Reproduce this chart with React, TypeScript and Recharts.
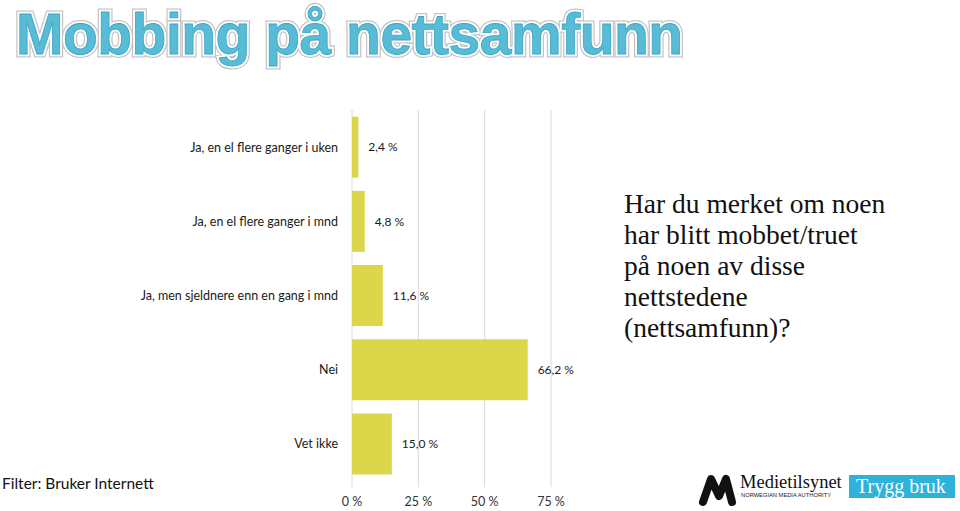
import { BarChart, Bar, XAxis, YAxis, CartesianGrid, LabelList } from "recharts";

const categories = [
  "Ja, en el flere ganger i uken",
  "Ja, en el flere ganger i mnd",
  "Ja, men sjeldnere enn en gang i mnd",
  "Nei",
  "Vet ikke",
];
const values = [2.4, 4.8, 11.6, 66.2, 15.0];
const xTicks = [0, 25, 50, 75];

const questionLines = [
  "Har du merket om noen",
  "har blitt mobbet/truet",
  "på noen av disse",
  "nettstedene",
  "(nettsamfunn)?",
];

const data = categories.map((name, i) => ({ name, value: values[i] }));

const fmt = (v: number) => v.toFixed(1).replace(".", ",") + " %";

const titleStyle = {
  position: "absolute" as const,
  left: 16,
  top: 1,
  fontFamily: "Liberation Sans",
  fontWeight: 700,
  fontSize: 57,
  letterSpacing: -0.5,
  lineHeight: "normal",
  whiteSpace: "nowrap" as const,
};

export default function App() {
  return (
    <div
      style={{
        position: "absolute",
        left: 0,
        top: 0,
        width: 960,
        height: 511,
        background: "#fff",
        overflow: "hidden",
      }}
    >
      {/* title, layered to get the outline look */}
      <div style={{ ...titleStyle, color: "transparent", WebkitTextStroke: "7px #c4c4c4" }}>
        Mobbing på nettsamfunn
      </div>
      <div style={{ ...titleStyle, color: "transparent", WebkitTextStroke: "4.5px #ffffff" }}>
        Mobbing på nettsamfunn
      </div>
      <div style={{ ...titleStyle, color: "#58bcd7", WebkitTextStroke: "0.8px #3aa6c5" }}>
        Mobbing på nettsamfunn
      </div>

      <div style={{ position: "absolute", left: 0, top: 0 }}>
        <BarChart
          width={960}
          height={511}
          data={data}
          layout="vertical"
          margin={{ top: 110, right: 409, bottom: 0, left: 0 }}
          barCategoryGap="9%"
        >
          <CartesianGrid horizontal={false} stroke="#d9d9d9" />
          <XAxis
            type="number"
            domain={[0, 75]}
            ticks={xTicks}
            tickFormatter={(v) => `${v} %`}
            axisLine={false}
            tickLine={{ stroke: "#d9d9d9" }}
            tickSize={6}
            tickMargin={10}
            height={30}
            tick={{ fill: "#333", fontSize: 12.5, fontFamily: "Lato" }}
          />
          <YAxis
            type="category"
            dataKey="name"
            width={352}
            axisLine={false}
            tickLine={false}
            tickSize={0}
            tickMargin={14}
            tick={{ fill: "#1a1a1a", fontSize: 12.5, fontFamily: "Lato" }}
          />
          <Bar dataKey="value" fill="#dcd74a" isAnimationActive={false}>
            <LabelList
              dataKey="value"
              position="right"
              offset={10}
              formatter={(v: number) => fmt(v)}
              style={{ fill: "#1a1a1a", fontSize: 12, fontFamily: "Lato" }}
            />
          </Bar>
        </BarChart>
      </div>

      {/* question text */}
      <div
        style={{
          position: "absolute",
          left: 624,
          top: 188,
          fontFamily: "Liberation Serif",
          fontSize: 27.5,
          lineHeight: "31px",
          color: "#111",
        }}
      >
        {questionLines.map((l) => (
          <div key={l}>{l}</div>
        ))}
      </div>

      {/* filter note */}
      <div
        style={{
          position: "absolute",
          left: 2,
          top: 474,
          fontFamily: "Lato",
          fontSize: 15.5,
          color: "#111",
        }}
      >
        Filter: Bruker Internett
      </div>

      {/* logos */}
      <svg width={270} height={51} style={{ position: "absolute", left: 690, top: 460 }}>
        <path
          d="M13 42 L21 19 L29 36 L36 19 L42 42"
          fill="none"
          stroke="#111"
          strokeWidth={8}
          strokeLinecap="round"
          strokeLinejoin="round"
        />
        <text x={50} y={28} fontFamily="Liberation Serif" fontSize={18.5} fill="#111">
          Medietilsynet
        </text>
        <text
          x={51}
          y={37}
          fontFamily="Liberation Sans"
          fontSize={5.5}
          textLength={90}
          lengthAdjust="spacingAndGlyphs"
          fill="#222"
        >
          NORWEGIAN MEDIA AUTHORITY
        </text>
        <rect x={159} y={15} width={106} height={23} fill="#2eb2d9" />
        <text x={166} y={33} fontFamily="Liberation Serif" fontSize={20} fill="#fff">
          Trygg bruk
        </text>
      </svg>
    </div>
  );
}
